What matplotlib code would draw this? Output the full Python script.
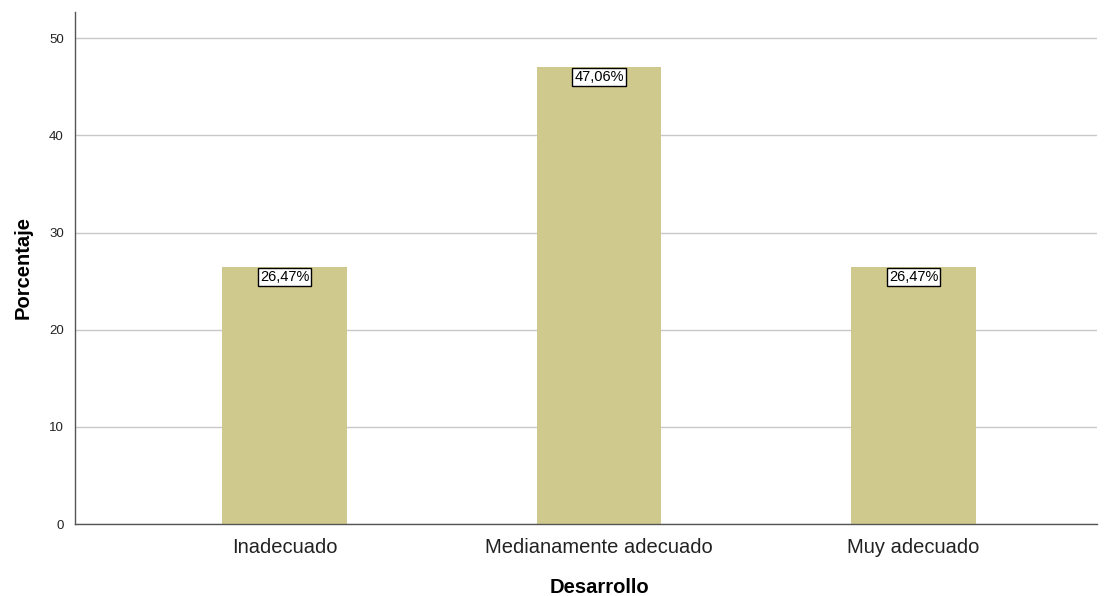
import matplotlib
matplotlib.use("Agg")
import matplotlib.pyplot as plt

plt.rcParams['font.family'] = ['Liberation Sans', 'DejaVu Sans']

# Porcentaje por nivel de desarrollo
categorias = ["Inadecuado", "Medianamente adecuado", "Muy adecuado"]
porcentajes = [26.47, 47.06, 26.47]
etiquetas = ["26,47%", "47,06%", "26,47%"]
yticks = [0, 10, 20, 30, 40, 50]

fig = plt.figure(figsize=(11.11, 5.96), dpi=100)
ax = fig.add_axes([0.0675, 0.1208, 0.9199, 0.8591])

x = list(range(len(categorias)))
ax.bar(x, porcentajes, width=0.397, color="#D0C98E", zorder=2)

for xi, v, lab in zip(x, porcentajes, etiquetas):
    ax.annotate(lab, (xi, v), xytext=(0, -2.5), textcoords="offset points",
                ha="center", va="top", fontsize=10.5, zorder=4,
                bbox=dict(boxstyle="square,pad=0.15", fc="white", ec="black", lw=1))

xmin, xmax = -0.666, 2.583
ax.set_xlim(xmin, xmax)
ax.set_ylim(0, 52.7)
ax.set_yticks(yticks)
ax.set_xticks(x)
ax.set_xticklabels(categorias, fontsize=14.5, color="#222222")
ax.tick_params(axis="y", labelsize=9.5, length=0, pad=8, colors="#222222")
ax.tick_params(axis="x", length=0, pad=10)
ax.grid(axis="y", color="#C8C8C8", lw=1, zorder=1)

for s in ["top", "right"]:
    ax.spines[s].set_visible(False)
for s in ["left", "bottom"]:
    ax.spines[s].set_color("#555555")
    ax.spines[s].set_linewidth(1)

ax.set_xlabel("Desarrollo", fontsize=14.5, fontweight="bold")
ax.set_ylabel("Porcentaje", fontsize=14.5, fontweight="bold", labelpad=12)
# the category title sits under the middle bar
ax.xaxis.set_label_coords((1 - xmin) / (xmax - xmin), -0.105)

fig.savefig("out.png", dpi=100)
